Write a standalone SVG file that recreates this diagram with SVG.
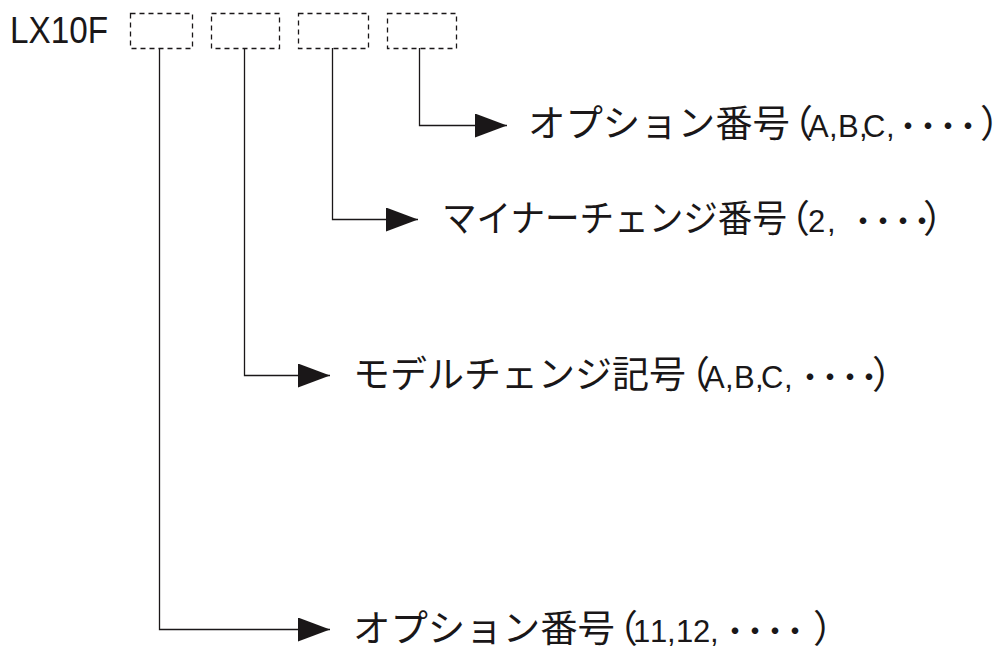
<svg xmlns="http://www.w3.org/2000/svg" width="1001" height="650" viewBox="0 0 1001 650">
<style>
.box{fill:none;stroke:#1a1718;stroke-width:1.3;stroke-dasharray:5 4}
.ln{fill:none;stroke:#1a1718;stroke-width:1.3}
.t{font-family:"Liberation Sans","Noto Sans CJK JP",sans-serif;fill:#1a1718}
.jp{font-family:"Noto Sans CJK JP",sans-serif;font-size:37px}
.la{font-size:31px}
.pr{font-family:"Noto Sans CJK JP",sans-serif;font-size:38px}
</style>
<defs>
<marker id="ah" viewBox="0 0 32 24" refX="32" refY="12" markerWidth="32" markerHeight="24" markerUnits="userSpaceOnUse" orient="auto">
<path d="M0,0 L32,12 L0,24 z" fill="#1a1718"/>
</marker>
</defs>
<rect width="1001" height="650" fill="#fff"/>
<g id="model">
<text class="t" x="10" y="43" font-size="37" textLength="98" lengthAdjust="spacingAndGlyphs">LX10F</text>
<rect class="box" x="130.5" y="13.5" width="62" height="35"/>
<rect class="box" x="211.5" y="13.5" width="68" height="35"/>
<rect class="box" x="298.5" y="13.5" width="70" height="35"/>
<rect class="box" x="387.5" y="13.5" width="69" height="35"/>
</g>
<g id="connectors">
<path class="ln" d="M419.5,48 V125.5 H507" marker-end="url(#ah)"/>
<path class="ln" d="M332.5,48 V219.5 H418" marker-end="url(#ah)"/>
<path class="ln" d="M244.5,48 V375.5 H330" marker-end="url(#ah)"/>
<path class="ln" d="M159.5,48 V629.5 H330" marker-end="url(#ah)"/>
</g>
<g id="label-option-abc">
<text class="t" y="137"><tspan class="jp" x="528" textLength="262" lengthAdjust="spacingAndGlyphs">オプション番号</tspan><tspan class="pr" x="775">（</tspan><tspan class="la" x="808 829 838 859 863 886 892.5 912.5 932.5 952.5">A,B,C,・・・・</tspan><tspan class="pr" x="980">）</tspan></text>
</g>
<g id="label-minor">
<text class="t" y="232"><tspan class="jp" x="442" textLength="345" lengthAdjust="spacingAndGlyphs">マイナーチェンジ番号</tspan><tspan class="pr" x="772">（</tspan><tspan class="la" x="808 827 847.5 867.5 887.5 906.5">2,・・・・</tspan><tspan class="pr" x="923">）</tspan></text>
</g>
<g id="label-model">
<text class="t" y="388"><tspan class="jp" x="353" textLength="333" lengthAdjust="spacingAndGlyphs">モデルチェンジ記号</tspan><tspan class="pr" x="672">（</tspan><tspan class="la" x="704 725 734 755 761 784 794.5 814.5 834.5 853.5">A,B,C,・・・・</tspan><tspan class="pr" x="872">）</tspan></text>
</g>
<g id="label-option-num">
<text class="t" y="642"><tspan class="jp" x="353" textLength="262" lengthAdjust="spacingAndGlyphs">オプション番号</tspan><tspan class="pr" x="600">（</tspan><tspan class="la" x="633 650 667 676 693 710 719.5 739.5 759.5 779.5">11,12,・・・・</tspan><tspan class="pr" x="813">）</tspan></text>
</g>
</svg>
